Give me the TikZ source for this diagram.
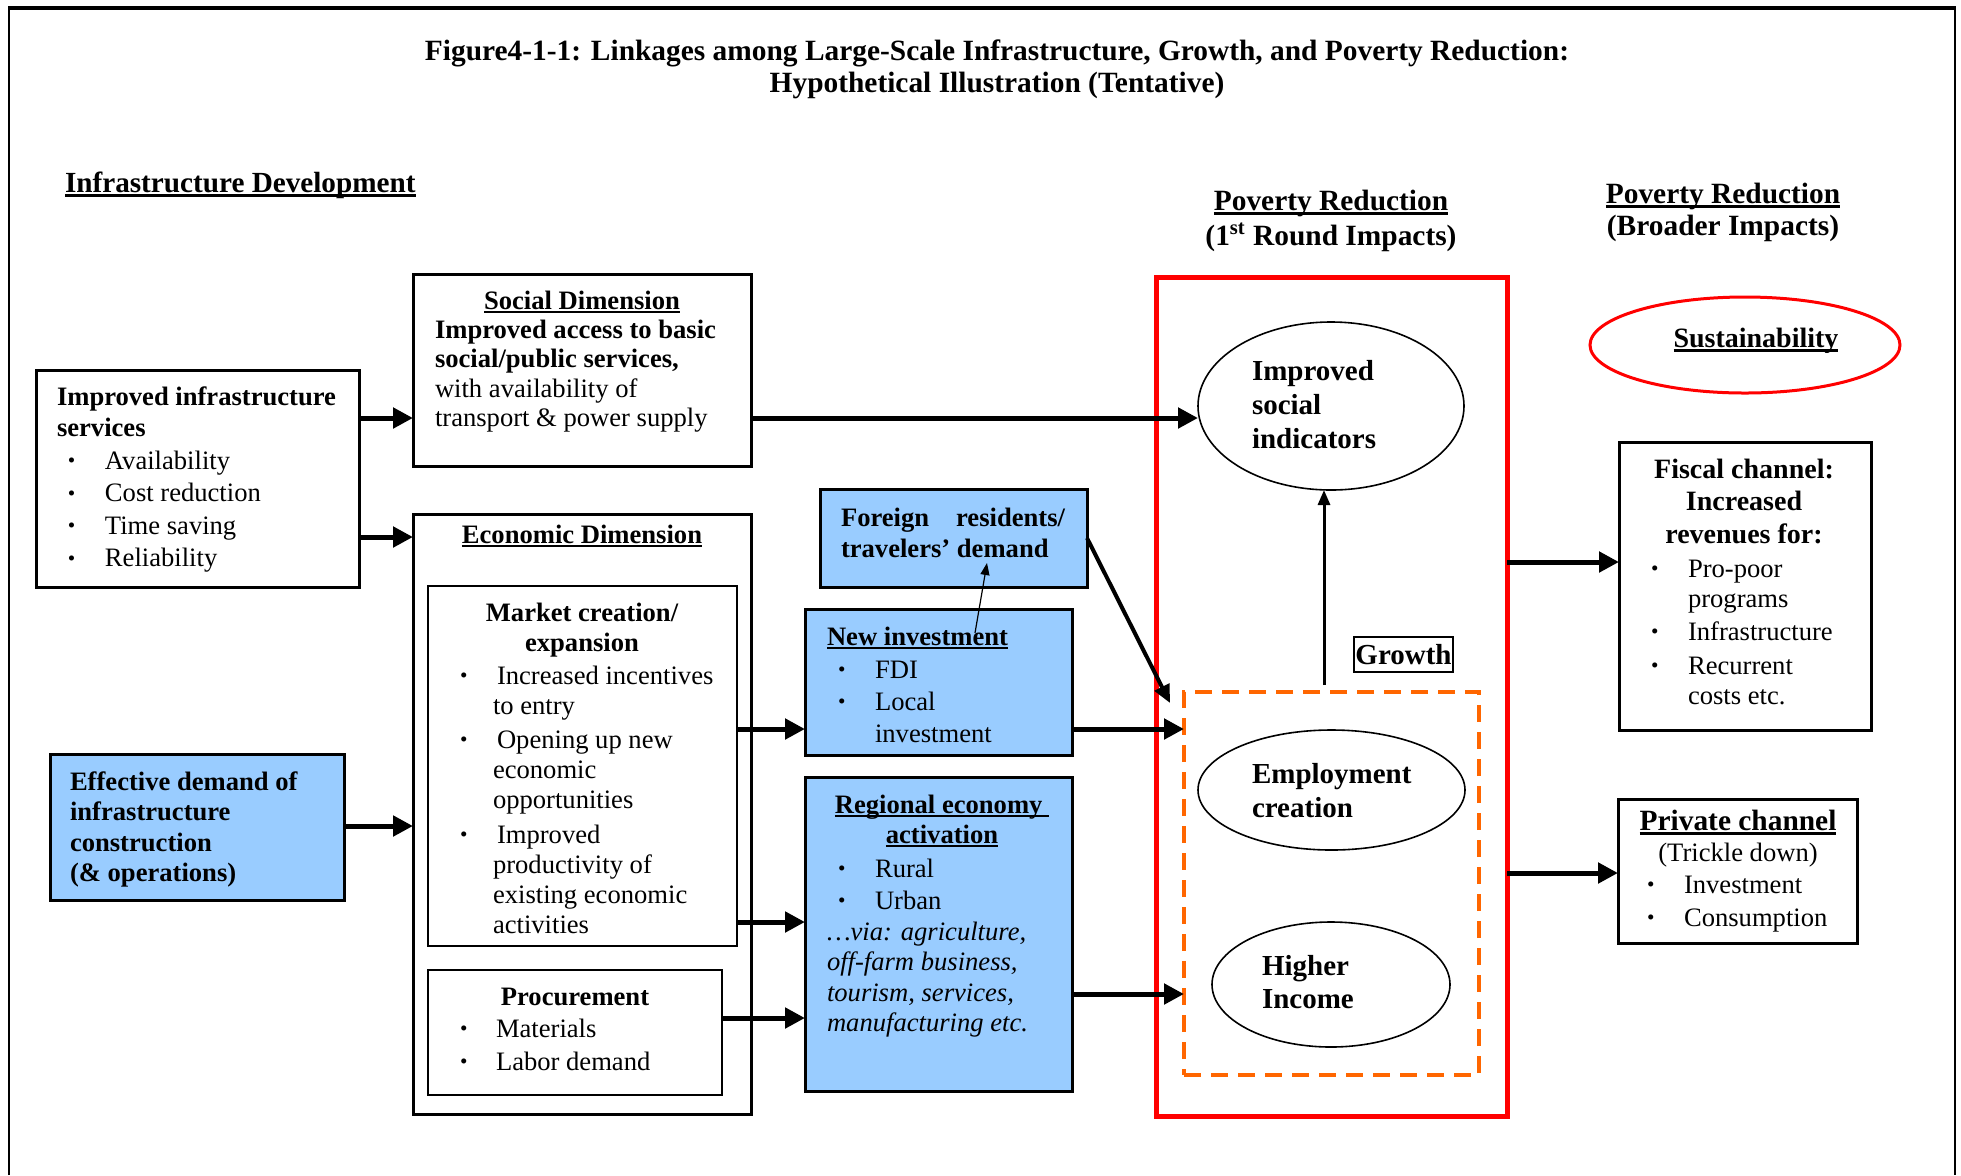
\documentclass[tikz,border=0pt]{standalone}
\usepackage{fontspec}
\setmainfont{Liberation Serif}
\usepackage{graphicx}
\usetikzlibrary{arrows.meta,shapes.geometric}
\definecolor{lblue}{RGB}{153,204,255}
\definecolor{dorange}{RGB}{255,102,0}

\newcommand\mybul{\raisebox{0.06em}{\scalebox{0.8}{\textbullet}}}
\newcommand\bitem[2]{\makebox[#1][l]{\mybul}#2}
\newcommand\citem[2]{\hspace*{#1}#2}
\newcommand\lst[2]{\begin{tabular}[t]{@{}#1@{}}#2\end{tabular}}
\newcommand\uln[2][1pt]{\setbox0\hbox{#2}\rlap{\rule[\dimexpr-1.1pt-#1\relax]{\wd0}{#1}}\box0}
\newcommand\boxat[6]{%
  \pgfmathsetmacro\bxw{(#5-#3)/2}\pgfmathsetmacro\bxh{(#6-#4)/2}%
  \node[#2, minimum width=\bxw pt, minimum height=\bxh pt, anchor=north west] (#1) at (#3,#4) {};}

\tikzset{
  bbox/.style={draw, line width=1.5pt, rectangle, inner sep=0pt, outer sep=0pt},
  ibox/.style={draw, line width=1pt, rectangle, inner sep=0pt, outer sep=0pt},
  blbox/.style={bbox, fill=lblue},
  tx/.style={inner sep=0pt, outer sep=0pt, anchor=base west},
  tc/.style={inner sep=0pt, outer sep=0pt, anchor=base},
  tarrow/.style={line width=2.5pt, -{Triangle[length=10pt,width=10pt]}},
  ell/.style={draw, ellipse, line width=0.8pt, inner sep=0pt, outer sep=0pt},
}

\begin{document}
\begin{tikzpicture}[x=0.5pt,y=-0.5pt]
\useasboundingbox (0,0) rectangle (1961,1175);

% frame
\draw[line width=1pt] (9,1175) -- (9,8);
\draw[line width=1pt] (1955,8) -- (1955,1175);
\draw[line width=1.6pt] (8,8) -- (1956,8);

% title and headings
\node[tc, font=\bfseries\fontsize{14.7}{16}\selectfont] (title) at (997,60)
  {\lst{c}{Figure4-1-1: Linkages among Large-Scale Infrastructure, Growth, and Poverty Reduction:\\Hypothetical Illustration (Tentative)}};
\node[tx, font=\bfseries\fontsize{14.6}{17}\selectfont] (idev) at (65,192) {\uln[1.5pt]{Infrastructure Development}};
\node[tc, font=\bfseries\fontsize{14.7}{17.5}\selectfont] (pr1) at (1331,210)
  {\lst{c}{\uln[1.4pt]{Poverty Reduction}\\(1\textsuperscript{st} Round Impacts)}};
\node[tc, font=\bfseries\fontsize{14.7}{16}\selectfont] (pr2) at (1723,203)
  {\lst{c}{\uln[1.4pt]{Poverty Reduction}\\(Broader Impacts)}};

% boxes
\boxat{A}{bbox}{36}{370}{359}{587}
\boxat{Soc}{bbox}{413}{274}{751}{466}
\boxat{Econ}{bbox}{413}{514}{751}{1114}
\boxat{Mkt}{ibox}{428}{586}{737}{946}
\boxat{Proc}{ibox}{428}{970}{722}{1095}
\boxat{Eff}{blbox}{50}{754}{344}{900}
\boxat{For}{blbox}{820}{489}{1087}{587}
\boxat{NewInv}{blbox}{805}{609}{1072}{755}
\boxat{Reg}{blbox}{805}{777}{1072}{1091}
\boxat{red}{draw=red, line width=2.5pt, rectangle, inner sep=0pt, outer sep=0pt}{1156}{277}{1507}{1116}
\boxat{dash}{draw=dorange, line width=1.75pt, dash pattern=on 8.5pt off 5pt, rectangle, inner sep=0pt, outer sep=0pt}{1184}{692}{1479}{1075}
\boxat{Fis}{bbox}{1619}{442}{1871}{730}
\boxat{Priv}{bbox}{1618}{799}{1857}{943}

% ellipses
\node[ell, minimum width=133pt, minimum height=84pt] (isi) at (1331,406) {};
\node[ell, minimum width=133.5pt, minimum height=60pt] (emp) at (1331.5,790) {};
\node[ell, minimum width=119pt, minimum height=62.5pt] (hin) at (1331,984.5) {};
\node[draw=red, ellipse, line width=1.5pt, inner sep=0pt, minimum width=155pt, minimum height=48pt] (sus) at (1745,345) {};
\node[draw, line width=1pt, inner sep=0pt, minimum width=49.5pt, minimum height=17.5pt,
  font=\bfseries\fontsize{14.5}{16}\selectfont] (grw) at (1403.5,654.5) {Growth};

% box A text
\node[tx, font=\bfseries\fontsize{13.3}{15.5}\selectfont] (Ah) at (57,405)
  {\lst{l}{Improved infrastructure\\services}};
\node[tx, font=\fontsize{13.3}{16.3}\selectfont] (Al) at (68,469)
  {\lst{l}{\bitem{18.5pt}{Availability}\\\bitem{18.5pt}{Cost reduction}\\\bitem{18.5pt}{Time saving}\\\bitem{18.5pt}{Reliability}}};

% social text
\node[tc, font=\bfseries\fontsize{13.3}{15}\selectfont] (Soch) at (582,309) {\uln{Social Dimension}};
\node[tx, font=\fontsize{13.3}{14.75}\selectfont] (Socl) at (435,338)
  {\lst{l}{\textbf{Improved access to basic}\\\textbf{social/public services,}\\with availability of\\transport \& power supply}};

% economic text
\node[tc, font=\bfseries\fontsize{13.3}{15}\selectfont] (Ech) at (582,543) {\uln{Economic Dimension}};
\node[tc, font=\bfseries\fontsize{13.3}{15}\selectfont] (Mkth) at (582,621) {\lst{c}{Market creation/\\expansion}};
\node[tx, font=\fontsize{13.3}{15}\selectfont] (Mktl) at (460,684)
  {\lst{l}{\bitem{18.5pt}{Increased incentives}\\\citem{16.5pt}{to entry}\\[2pt]
   \bitem{18.5pt}{Opening up new}\\\citem{16.5pt}{economic}\\\citem{16.5pt}{opportunities}\\[2.5pt]
   \bitem{18.5pt}{Improved}\\\citem{16.5pt}{productivity of}\\\citem{16.5pt}{existing economic}\\\citem{16.5pt}{activities}}};
\node[tc, font=\bfseries\fontsize{13.3}{15}\selectfont] (Proch) at (575,1005) {Procurement};
\node[tx, font=\fontsize{13.3}{16.5}\selectfont] (Procl) at (460,1037)
  {\lst{l}{\bitem{18pt}{Materials}\\\bitem{18pt}{Labor demand}}};

% effective demand
\node[tx, font=\bfseries\fontsize{13.3}{15.3}\selectfont] (Efft) at (70,790)
  {\lst{l}{Effective demand of\\infrastructure\\construction\\(\& operations)}};

% foreign
\node[tx, font=\bfseries\fontsize{13.3}{15.5}\selectfont] (Fort) at (841,526)
  {\lst{l}{\makebox[112pt][l]{Foreign\hfill residents/}\\travelers’ demand}};

% new investment
\node[tx, font=\bfseries\fontsize{13.3}{15}\selectfont] (NIh) at (827,645) {\uln{New investment}};
\node[tx, font=\fontsize{13.3}{16}\selectfont] (NIl) at (838,678)
  {\lst{l}{\bitem{18.5pt}{FDI}\\\bitem{18.5pt}{Local}\\\citem{18.5pt}{investment}}};

% regional
\node[tc, font=\bfseries\fontsize{13.3}{15}\selectfont] (Regh) at (942,813)
  {\lst{c}{\uln{Regional economy\ }\\\uln{activation}}};
\node[tx, font=\fontsize{13.3}{16}\selectfont] (Regl) at (838,877)
  {\lst{l}{\bitem{18.5pt}{Rural}\\\bitem{18.5pt}{Urban}}};
\node[tx, font=\itshape\fontsize{13.3}{15.3}\selectfont] (Regi) at (827,940)
  {\lst{l}{…via: agriculture,\\off-farm business,\\tourism, services,\\manufacturing etc.}};

% ellipse texts
\node[tx, font=\bfseries\fontsize{14.5}{17}\selectfont] (isit) at (1252,380) {\lst{l}{Improved\\social\\indicators}};
\node[tx, font=\bfseries\fontsize{14.5}{17}\selectfont] (empt) at (1252,783) {\lst{l}{Employment\\creation}};
\node[tx, font=\bfseries\fontsize{14.5}{16.5}\selectfont] (hint) at (1262,975) {\lst{l}{Higher\\Income}};
\node[tc, font=\bfseries\fontsize{14}{16}\selectfont] (sust) at (1756,347) {\uln[1.3pt]{Sustainability}};

% fiscal
\node[tc, font=\bfseries\fontsize{14}{16.25}\selectfont] (Fish) at (1744,478)
  {\lst{c}{Fiscal channel:\\Increased\\revenues for:}};
\node[tx, font=\fontsize{13.3}{15}\selectfont] (Fisl) at (1651,577)
  {\lst{l}{\bitem{18.5pt}{Pro-poor}\\\citem{18.5pt}{programs}\\[1.5pt]
   \bitem{18.5pt}{Infrastructure}\\[2pt]\bitem{18.5pt}{Recurrent}\\\citem{18.5pt}{costs etc.}}};

% private
\node[tc, font=\bfseries\fontsize{14.7}{16}\selectfont] (Privh) at (1738,830) {\uln[1.2pt]{Private channel}};
\node[tc, font=\fontsize{13.3}{16}\selectfont] (Privs) at (1738,861) {(Trickle down)};
\node[tx, font=\fontsize{13.3}{16.5}\selectfont] (Privl) at (1647,893)
  {\lst{l}{\bitem{18.5pt}{Investment}\\\bitem{18.5pt}{Consumption}}};

% connectors
\draw[tarrow] (A.east |- 0,418) -- (Soc.west |- 0,418);
\draw[tarrow] (A.east |- 0,537) -- (Econ.west |- 0,537);
\draw[tarrow] (Eff.east |- 0,826) -- (Econ.west |- 0,826);
\draw[tarrow] (Soc.east |- 0,418) -- (isi.west |- 0,418);
\draw[tarrow] (Mkt.east |- 0,729) -- (NewInv.west |- 0,729);
\draw[tarrow] (Mkt.east |- 0,922) -- (Reg.west |- 0,922);
\draw[tarrow] (Proc.east |- 0,1018) -- (Reg.west |- 0,1018);
\draw[tarrow] (NewInv.east |- 0,729) -- (dash.west |- 0,729);
\draw[tarrow] (Reg.east |- 0,994) -- (dash.west |- 0,994);
\draw[line width=2pt, -{Triangle[length=9pt,width=8pt]}] (For.east) -- ([xshift=-7pt,yshift=-5.5pt]dash.north west);
\draw[line width=0.6pt, -{Triangle[length=6pt,width=4.5pt]}] ([xshift=18.25pt,yshift=-12pt]NewInv.north) -- ([xshift=16.75pt,yshift=12pt]For.south);
\coordinate (gs) at ([xshift=-3.75pt,yshift=3.5pt]dash.north);
\draw[line width=1.5pt, -{Triangle[length=7.5pt,width=6pt]}] (gs) -- (isi.south -| gs);
\draw[tarrow] (red.east |- 0,562) -- (Fis.west |- 0,562);
\draw[tarrow] (red.east |- 0,873) -- (Priv.west |- 0,873);
\end{tikzpicture}
\end{document}
